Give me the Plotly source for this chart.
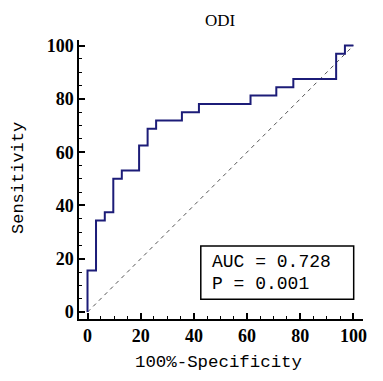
import plotly.graph_objects as go

# ROC curve points (percent)
fpr = [0, 3.2, 6.5, 9.7, 12.9, 19.4, 22.6, 25.8, 35.5, 41.9, 61.3, 71.0, 77.4, 93.5, 96.8, 100]
tpr = [0, 15.6, 34.4, 37.5, 50.0, 53.1, 62.5, 68.8, 71.9, 75.0, 78.1, 81.3, 84.4, 87.5, 96.9, 100]
ref_line = [0, 100]
tick_vals = [0, 20, 40, 60, 80, 100]
auc_text = "AUC = 0.728"
p_text = "P = 0.001"
title_text = "ODI"
x_title = "100%-Specificity"
y_title = "Sensitivity"

OFF = 8  # browser default body margin
W, H = 383 - OFF, 381 - OFF
L, R, T, B = 79 - OFF, 20, 40 - OFF, 62
PW, PH = W - L - R, H - T - B


def px_x(page_x):
    return (page_x - OFF - L) / PW


def px_y(page_y):
    return ((H - B) - (page_y - OFF)) / PH


fig = go.Figure()
fig.add_trace(go.Scatter(x=ref_line, y=ref_line, mode="lines",
                         line=dict(color="#555555", width=1, dash="4px,4px"),
                         hoverinfo="skip", showlegend=False))
fig.add_trace(go.Scatter(x=fpr, y=tpr, mode="lines", line_shape="vh",
                         line=dict(color="#1c1c78", width=2),
                         showlegend=False))

fig.add_shape(type="rect", x0=42.6, x1=100.1, y0=4.8, y1=24.8, xref="x", yref="y",
              line=dict(color="black", width=1.5), fillcolor="white", layer="above")
fig.add_annotation(x=46.0, y=18.7, text=auc_text, showarrow=False, xanchor="left", yanchor="middle",
                   font=dict(family="Liberation Mono", size=18, color="black"))
fig.add_annotation(x=46.0, y=10.5, text=p_text, showarrow=False, xanchor="left", yanchor="middle",
                   font=dict(family="Liberation Mono", size=18, color="black"))

# axis titles as annotations (paper coords)
fig.add_annotation(x=px_x(218), y=px_y(362), xref="paper", yref="paper", text=x_title,
                   showarrow=False, xanchor="center", yanchor="middle",
                   font=dict(family="Liberation Mono", size=17.4, color="black"))
fig.add_annotation(x=px_x(18), y=px_y(178), xref="paper", yref="paper", text=y_title,
                   showarrow=False, textangle=-90, xanchor="center", yanchor="middle",
                   font=dict(family="Liberation Mono", size=17, color="black"))

axis_common = dict(
    showline=True, linecolor="black", linewidth=1.5,
    showgrid=False, zeroline=False, automargin=False,
    ticks="inside", ticklen=6, tickwidth=1.5, tickcolor="black",
    tickvals=tick_vals,
    tickfont=dict(family="Liberation Serif", size=18, color="black", weight="bold"),
    minor=dict(dtick=5, tick0=0, ticks="inside", ticklen=3, tickwidth=1, tickcolor="black", showgrid=False),
)

fig.update_layout(
    width=W, height=H,
    margin=dict(l=L, r=R, t=T, b=B),
    paper_bgcolor="white", plot_bgcolor="white",
    title=dict(text=title_text, x=(220 - OFF) / W, xanchor="center",
               y=1 - (20.5 - OFF) / H, yanchor="middle",
               font=dict(family="Liberation Serif", size=17, color="black")),
    xaxis=dict(range=[-3.2, 103.6], **axis_common),
    yaxis=dict(range=[-2.6, 102.1], **axis_common),
)

fig.write_html("out.html")
